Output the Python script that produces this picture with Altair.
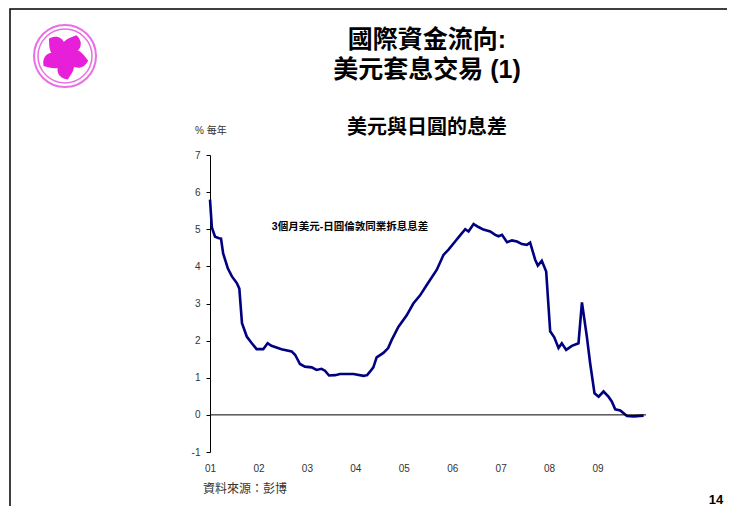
import altair as alt
import pandas as pd

# ---- data ----
dates = [
    "2001-01-01", "2001-01-15", "2001-02-08", "2001-03-10", "2001-03-25", "2001-04-10",
    "2001-05-15", "2001-06-15", "2001-07-22", "2001-08-10", "2001-08-30", "2001-10-05",
    "2001-11-12", "2001-12-18", "2002-02-06", "2002-03-11", "2002-04-09", "2002-06-24",
    "2002-09-08", "2002-10-04", "2002-11-10", "2002-12-17", "2003-02-06", "2003-03-15",
    "2003-04-21", "2003-05-17", "2003-06-17", "2003-08-01", "2003-09-08", "2003-12-18",
    "2004-03-03", "2004-03-30", "2004-04-22", "2004-05-16", "2004-06-10", "2004-07-31",
    "2004-09-05", "2004-10-02", "2004-11-21", "2005-01-23", "2005-03-14", "2005-05-04",
    "2005-06-23", "2005-09-07", "2005-10-27", "2005-12-04", "2006-01-23", "2006-02-17",
    "2006-04-09", "2006-05-04", "2006-06-11", "2006-07-18", "2006-08-24", "2006-10-14",
    "2006-11-21", "2006-12-16", "2007-01-11", "2007-02-18", "2007-03-27", "2007-05-04",
    "2007-06-10", "2007-07-17", "2007-08-11", "2007-09-18", "2007-10-08", "2007-11-07",
    "2007-12-10", "2008-01-09", "2008-02-09", "2008-03-12", "2008-04-06", "2008-05-09",
    "2008-06-21", "2008-08-10", "2008-09-05", "2008-10-12", "2008-11-06", "2008-12-09",
    "2009-01-09", "2009-02-15", "2009-03-24", "2009-04-18", "2009-05-14", "2009-06-21",
    "2009-08-11", "2009-10-01", "2009-12-14",
]
spread = [
    5.80, 5.05, 4.80, 4.76, 4.75, 4.35,
    3.95, 3.73, 3.55, 3.40, 2.47, 2.11,
    1.93, 1.77, 1.77, 1.93, 1.86, 1.77,
    1.71, 1.62, 1.37, 1.30, 1.28, 1.21,
    1.24, 1.19, 1.06, 1.07, 1.10, 1.10,
    1.05, 1.07, 1.17, 1.28, 1.55, 1.67,
    1.80, 2.02, 2.37, 2.68, 3.00, 3.22,
    3.50, 3.91, 4.31, 4.45, 4.67, 4.78,
    5.00, 4.94, 5.14, 5.06, 4.99, 4.94,
    4.85, 4.81, 4.85, 4.65, 4.70, 4.67,
    4.60, 4.58, 4.64, 4.18, 4.02, 4.15,
    3.86, 2.25, 2.09, 1.80, 1.93, 1.75,
    1.86, 1.93, 3.03, 2.11, 1.39, 0.58,
    0.49, 0.63, 0.49, 0.36, 0.15, 0.12,
    -0.03, -0.04, -0.02,
]
year_ticks = [2001, 2002, 2003, 2004, 2005, 2006, 2007, 2008, 2009]
y_ticks = [-1, 0, 1, 2, 3, 4, 5, 6, 7]
petal_angles = [15, 87, 159, 231, 303]

# ---- build table ----
dt = pd.to_datetime(pd.Series(dates))
days = dt.dt.is_leap_year.map({True: 366, False: 365})
df = pd.DataFrame({
    "t": dt.dt.year + (dt.dt.dayofyear - 1) / days,
    "v": spread,
})

W, H = 436, 297
CJK = "Liberation Sans, Noto Sans CJK TC, Noto Sans CJK SC"
one = alt.Data(values=[{}])

xscale = alt.Scale(domain=[2001, 2010], nice=False, zero=False)
yscale = alt.Scale(domain=[-1, 7], nice=False)
yaxis = alt.Axis(values=y_ticks, title=None, grid=False,
                 domainColor="#000000",
                 tickColor="#000000", tickSize=4, labelPadding=6,
                 labelOverlap=False, labelFlush=False,
                 labelExpr="toString(datum.value)",
                 labelFontSize=10, labelColor="#333333",
                 labelFont="Liberation Sans")

line = alt.Chart(df).mark_line(color="#000080", strokeWidth=2.6).encode(
    x=alt.X("t:Q", scale=xscale,
            axis=alt.Axis(values=year_ticks, title=None, domain=False, ticks=False,
                          grid=False, labelExpr="slice(toString(datum.value), 2)",
                          labelFlush=False, labelOverlap=False,
                          labelPadding=11, labelFontSize=10, labelColor="#333333",
                          labelFont="Liberation Sans")),
    y=alt.Y("v:Q", scale=yscale, axis=yaxis),
)

zero = alt.Chart(pd.DataFrame({"z": [0]})).mark_rule(color="#000000", strokeWidth=1).encode(
    y=alt.Y("z:Q", scale=yscale, axis=yaxis))

def txt(s, x, y, size, bold=False, align="center", color="#000000", font=CJK):
    return alt.Chart(one).mark_text(
        fontSize=size, fontWeight="bold" if bold else "normal", align=align,
        baseline="middle", color=color, font=font,
    ).encode(x=alt.value(x), y=alt.value(y), text=alt.value(s))

frame = alt.Chart(one).mark_rect(fill=None, fillOpacity=0, stroke="#000000",
                                 strokeWidth=1.5).encode(
    x=alt.value(-200), x2=alt.value(518), y=alt.value(-146), y2=alt.value(420))

ring_outer = alt.Chart(one).mark_point(shape="circle", filled=False, color="#e033d6",
                                       strokeWidth=2, size=3844).encode(
    x=alt.value(-145), y=alt.value(-99))
ring_inner = alt.Chart(one).mark_point(shape="circle", filled=False, color="#e033d6",
                                       strokeWidth=1.5, size=2916).encode(
    x=alt.value(-145), y=alt.value(-99))
petal_path = "M0,0 C0.5,-0.15 0.8,-0.7 0.25,-1 C0,-0.8 -0.55,-0.55 0,0 Z"
petals = alt.Chart(pd.DataFrame({"a": petal_angles})).mark_point(
    shape=petal_path, filled=True, color="#e81fd8", opacity=1, size=2100,
    strokeWidth=0).encode(x=alt.value(-145), y=alt.value(-99),
                          angle=alt.Angle("a:Q", scale=None))

chart = alt.layer(
    frame, ring_outer, ring_inner, petals, line, zero,
    txt("國際資金流向:", 217, -115, 25, bold=True),
    txt("美元套息交易 (1)", 217, -85, 25, bold=True),
    txt("美元與日圓的息差", 217, -27, 20, bold=True),
    txt("% 每年", -15, -24, 10, align="left", color="#333333"),
    txt("3個月美元-日圓倫敦同業拆息息差", 140, 72, 10.5, bold=True),
    txt("資料來源：彭博", -7, 334, 12, align="left", color="#333333"),
    txt("14", 506, 345, 13, bold=True, font="Liberation Sans"),
).properties(
    width=W, height=H,
    autosize=alt.AutoSizeParams(type="none"),
    padding={"left": 202, "top": 147, "right": 81, "bottom": 54},
).configure_view(strokeWidth=0).configure_axis(labelOverlap=False)

chart.save("out.html", embed_options={"renderer": "svg", "actions": False})
